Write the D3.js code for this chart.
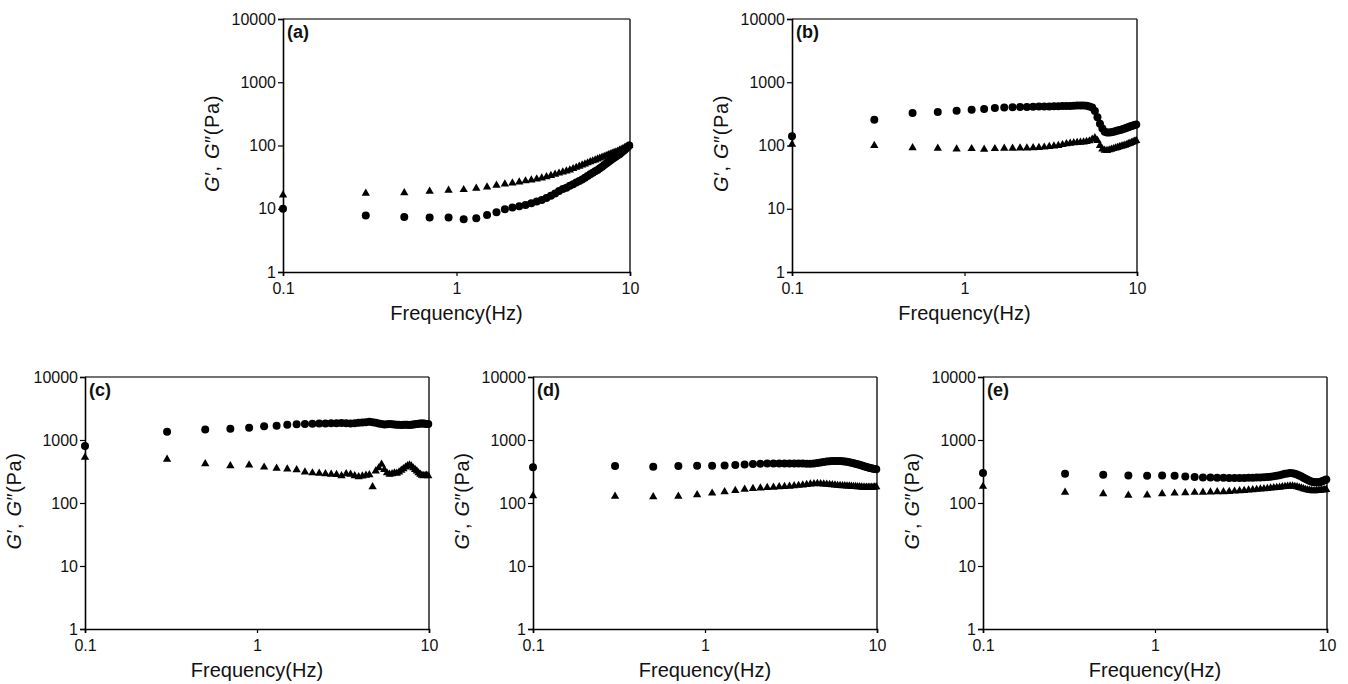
<!DOCTYPE html>
<html>
<head>
<meta charset="utf-8">
<script src="https://cdn.jsdelivr.net/npm/d3@7"></script>
<style>
  html, body { margin: 0; padding: 0; background: #fff; }
  svg { display: block; }
  text { font-family: "Liberation Sans", Arial, sans-serif; fill: #111; }
</style>
</head>
<body>
<svg id="chart" width="1348" height="684"></svg>
<script>
// ---------------- data ----------------
const frequency = [0.1,0.3,0.5,0.7,0.9,1.1,1.3,1.5,1.7,1.9,2.1,2.3,2.5,2.7,2.9,3.1,3.3,3.5,3.7,3.9,
  4.1,4.3,4.5,4.7,4.9,5.1,5.3,5.5,5.7,5.9,6.1,6.3,6.5,6.7,6.9,7.1,7.3,7.5,7.7,7.9,
  8.1,8.3,8.5,8.7,8.9,9.1,9.3,9.5,9.7,9.9];

const panelLabels = ["(a)", "(b)", "(c)", "(d)", "(e)"];
const xTickValues = [0.1, 1, 10];
const xTickLabels = ["0.1", "1", "10"];
const yTickValues = [1, 10, 100, 1000, 10000];
const yTickLabels = ["1", "10", "100", "1000", "10000"];
const xTitle = "Frequency(Hz)";

// G' (circles)
const storageA = [10,7.8,7.4,7.3,7.3,6.8,7.1,8.0,8.8,9.8,10.5,11.0,11.5,12.2,13.0,13.8,14.8,16,17.5,19,
  20.5,21.5,23,24.5,26,27.5,29,31,33,35,37,39,41,43.5,46,49,52,55,58,61,
  64,67,70,73,77,81,85,90,95,100];
// G'' (triangles)
const lossA = [16.5,17.5,17.8,18.8,19.5,20,21,22,23.5,24.5,25.5,26.5,27.5,28.5,29.5,30.5,32,33.5,35,36.5,
  38,39.5,41,43,45,47,49,51,53,55,57,59,61,63,65,67,69,71,73,75,
  77,79,81,84,86,89,92,94,97,100];

const storageB = [140,255,325,338,355,368,378,390,398,402,405,408,410,412,413,415,416,418,420,420,
  422,425,428,430,430,425,415,400,350,280,220,185,165,160,160,162,165,168,172,175,
  178,182,186,190,195,199,203,207,211,215];
const lossB = [104,100,92,90,88,89,87,89,90,90,91,91,92,93,94,96,98,100,103,106,
  108,110,111,112,113,115,118,125,132,120,100,88,84,83,85,87,89,91,93,95,
  97,99,101,103,106,108,111,114,117,120];

const storageC = [800,1350,1470,1510,1570,1660,1690,1740,1780,1800,1810,1820,1830,1840,1850,1860,1850,1830,1850,1880,
  1900,1920,1940,1920,1880,1830,1790,1760,1780,1800,1780,1760,1750,1740,1730,1740,1750,1740,1730,1740,
  1760,1780,1800,1810,1820,1830,1820,1810,1800,1790];
const lossC = [530,495,420,390,400,370,355,345,335,310,300,295,290,285,282,270,290,285,270,260,
  268,275,280,180,320,360,410,340,300,285,290,300,295,310,330,350,370,390,400,385,
  360,340,320,300,285,275,270,272,275,270];

const storageD = [370,385,375,385,390,390,395,400,408,415,420,422,423,424,425,425,424,423,422,420,
  420,425,432,440,448,455,460,463,465,465,463,460,455,450,443,435,427,420,412,404,
  396,388,380,373,366,360,355,350,346,342];
const lossD = [130,128,125,128,135,143,150,157,165,170,173,176,178,180,182,184,187,190,193,196,
  199,201,203,202,200,198,196,194,192,190,189,188,187,186,185,184,183,182,181,180,
  179,178,178,177,177,177,178,178,179,180];

const storageE = [300,290,280,273,270,272,270,263,258,255,253,252,251,250,250,250,250,251,252,253,
  255,257,259,262,265,270,276,283,290,295,298,297,292,284,274,263,252,242,233,225,
  219,215,213,213,214,216,220,225,230,235];
const lossE = [183,148,140,132,134,140,143,145,147,148,149,150,151,152,154,156,158,160,162,164,
  166,168,170,172,174,176,178,180,182,184,185,185,183,180,176,172,168,164,161,159,
  157,156,156,157,158,159,160,161,162,163];

const storageSeries = [storageA, storageB, storageC, storageD, storageE];
const lossSeries = [lossA, lossB, lossC, lossD, lossE];

// ---------------- layout (pixel frames of each panel) ----------------
const frames = [
  {left: 283, right: 630, top: 19, bottom: 272},
  {left: 792, right: 1137, top: 19, bottom: 272},
  {left: 85,  right: 429, top: 377, bottom: 629},
  {left: 533, right: 877, top: 377, bottom: 629},
  {left: 983, right: 1327, top: 377, bottom: 629}
];

const svg = d3.select("#chart");

frames.forEach((f, i) => {
  const x = d3.scaleLog().domain([0.1, 10]).range([f.left, f.right]);
  const y = d3.scaleLog().domain([1, 10000]).range([f.bottom, f.top]);
  const g = svg.append("g");

  // frame top & right
  g.append("line").attr("x1", f.left).attr("x2", f.right).attr("y1", f.top).attr("y2", f.top)
    .attr("stroke", "#444").attr("stroke-width", 1.3);
  g.append("line").attr("x1", f.right).attr("x2", f.right).attr("y1", f.top).attr("y2", f.bottom)
    .attr("stroke", "#222").attr("stroke-width", 1.5);

  // axes
  const xAxis = d3.axisBottom(x).tickValues(xTickValues)
    .tickFormat((d, k) => xTickLabels[k]).tickSize(4).tickPadding(4);
  const yAxis = d3.axisLeft(y).tickValues(yTickValues)
    .tickFormat((d, k) => yTickLabels[k]).tickSize(5).tickPadding(2);

  const gx = g.append("g").attr("transform", `translate(0,${f.bottom})`).call(xAxis);
  const gy = g.append("g").attr("transform", `translate(${f.left},0)`).call(yAxis);
  [gx, gy].forEach(a => {
    a.select(".domain").attr("stroke", "#000").attr("stroke-width", 1.6);
    a.selectAll(".tick line").attr("stroke", "#000").attr("stroke-width", 1.2);
    a.selectAll(".tick text").style("font-family", '"Liberation Sans", Arial, sans-serif')
      .style("font-size", "16px").attr("fill", "#111");
  });
  gx.selectAll(".tick text").attr("dy", "0.9em");

  // x title
  g.append("text").attr("x", (f.left + f.right) / 2).attr("y", f.bottom + 48)
    .attr("text-anchor", "middle").style("font-size", "20px").text(xTitle);

  // y title
  const cy = (f.top + f.bottom) / 2 - 2;
  const yt = g.append("text")
    .attr("transform", `translate(${f.left - 64},${cy}) rotate(-90)`)
    .attr("text-anchor", "middle").style("font-size", "20px").style("letter-spacing", "0.6px");
  yt.append("tspan").style("font-style", "italic").text("G");
  yt.append("tspan").text("′, ");
  yt.append("tspan").style("font-style", "italic").text("G");
  yt.append("tspan").text("″(Pa)");

  // panel label
  g.append("text").attr("x", f.left + 4).attr("y", f.top + 19)
    .style("font-size", "18px").style("font-weight", "bold").text(panelLabels[i]);

  // data
  const storage = storageSeries[i];
  const loss = lossSeries[i];
  g.append("g").selectAll("circle").data(frequency).join("circle")
    .attr("cx", d => x(d)).attr("cy", (d, k) => y(storage[k])).attr("r", 4).attr("fill", "#000");
  const tri = d3.symbol().type(d3.symbolTriangle).size(30);
  g.append("g").selectAll("path").data(frequency).join("path")
    .attr("d", tri).attr("transform", (d, k) => `translate(${x(d)},${y(loss[k])})`).attr("fill", "#000");
});
</script>
</body>
</html>
